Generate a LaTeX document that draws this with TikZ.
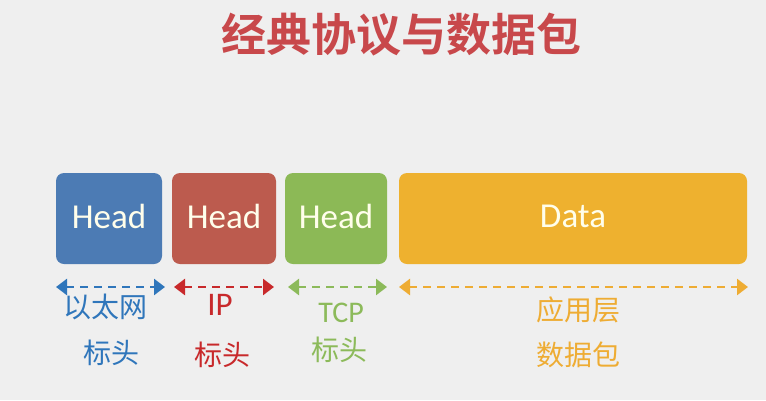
\documentclass[tikz,border=0pt]{standalone}
\usepackage{fontspec}
\setmainfont{Carlito}
\newfontfamily\cjk{Noto Sans CJK SC}
\newfontfamily\cjkb{Noto Sans CJK SC Bold}
\usetikzlibrary{arrows.meta}
\definecolor{bgc}{HTML}{EFEFEF}
\definecolor{titlec}{HTML}{C8484B}
\definecolor{cblue}{HTML}{4C7BB4}
\definecolor{cred}{HTML}{BC5B4E}
\definecolor{cgreen}{HTML}{8CB956}
\definecolor{corange}{HTML}{EEB12F}
\definecolor{tblue}{HTML}{2F76BB}
\definecolor{tred}{HTML}{C8292B}
\definecolor{tgreen}{HTML}{8CBA5A}
\definecolor{torange}{HTML}{EEAC33}
\tikzset{
  blk/.style={inner sep=0pt, text=white!92!yellow, font=\fontsize{35}{40}\selectfont},
  dim/.style={dashed, dash pattern=on 8pt off 6pt, line width=2.6pt, {Triangle[length=11pt,width=16pt]}-{Triangle[length=11pt,width=16pt]}},
  lab/.style={font=\cjk\fontsize{28}{32}\selectfont, inner sep=0pt},
}
\begin{document}
\begin{tikzpicture}[x=1pt,y=-1pt]
\fill[bgc] (0,0) rectangle (766,400);
\useasboundingbox (0,0) rectangle (766,400);
\node[font=\cjkb\fontsize{45}{48}\selectfont, text=titlec] (title) at (401,35) {经典协议与数据包};
% boxes
\fill[cblue, rounded corners=8pt] (56,173) rectangle (162,264);
\node[blk] (b1) at (109,216) {Head};
\fill[cred, rounded corners=8pt] (172,173) rectangle (276,264);
\node[blk] (b2) at (224,216) {Head};
\fill[cgreen, rounded corners=8pt] (285,173) rectangle (387,264);
\node[blk] (b3) at (336,216) {Head};
\fill[corange, rounded corners=8pt] (399,173) rectangle (747,264);
\node[blk] (b4) at (573,216) {Data};
% arrows
\coordinate (a1l) at (56,287); \coordinate (a1r) at (165,287);
\coordinate (a2l) at (174,287); \coordinate (a2r) at (274,287);
\coordinate (a3l) at (288,287); \coordinate (a3r) at (387,287);
\coordinate (a4l) at (399,287); \coordinate (a4r) at (748,287);
\draw[dim, tblue] (a1l) -- (a1r);
\draw[dim, tred] (a2l) -- (a2r);
\draw[dim, tgreen] (a3l) -- (a3r);
\draw[dim, torange] (a4l) -- (a4r);
% labels
\node[lab, text=tblue] (l1a) at (105,307) {以太网};
\node[lab, text=tblue] (l1b) at (111,353) {标头};
\node[font=\fontsize{33}{36}\selectfont, inner sep=0pt, text=tred] (l2a) at (220,305) {IP};
\node[lab, text=tred] (l2b) at (222,355) {标头};
\node[font=\fontsize{30}{34}\selectfont, inner sep=0pt, text=tgreen] (l3a) at (341,313) {TCP};
\node[lab, text=tgreen] (l3b) at (339,350) {标头};
\node[lab, text=torange] (l4a) at (578,310) {应用层};
\node[lab, text=torange] (l4b) at (578,355) {数据包};
\end{tikzpicture}
\end{document}
